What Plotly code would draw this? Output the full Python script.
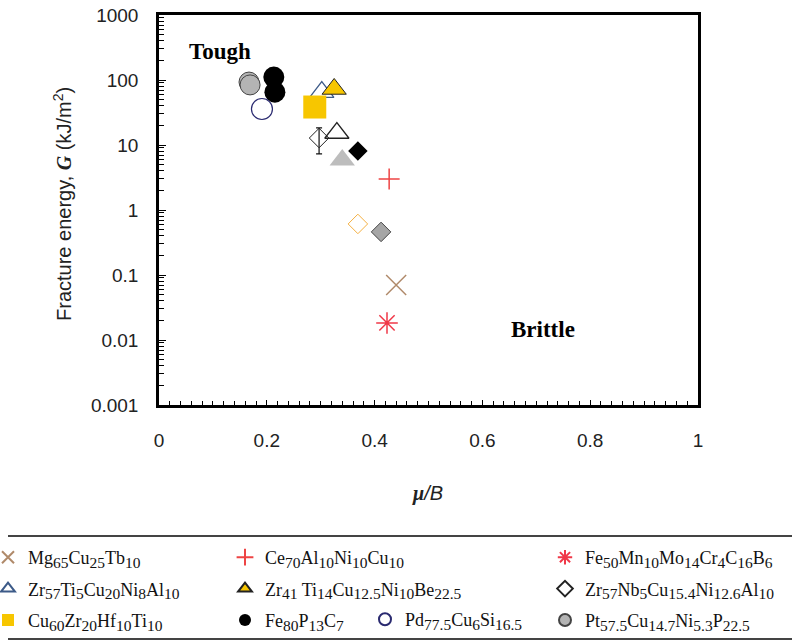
import plotly.graph_objects as go

W, H = 792, 641

# ---------------- data ----------------
mg_x, mg_y = [0.440], [0.070]
ce_x, ce_y = [0.427], [3.0]
fe50_x, fe50_y = [0.423], [0.0183]
zrti_x, zrti_y = [0.302, 0.330], [65, 15.3]
zr41_x, zr41_y = [0.325], [72.8]
zrnb_x, zrnb_y = [0.297], [12.8]
zrnb_err_up, zrnb_err_down = [5.5], [5.5]
cu60_x, cu60_y = [0.289], [38.4]
fe80_x, fe80_y = [0.213, 0.215], [111, 65]
pd_x, pd_y = [0.191], [35.8]
pt_x, pt_y = [0.167, 0.169], [93, 84]
# unlabelled points
greytri_x, greytri_y = [0.340], [5.9]
blackdia_x, blackdia_y = [0.369], [8.1]
orangedia_x, orangedia_y = [0.369], [0.61]
greydia_x, greydia_y = [0.412], [0.46]

y_tickvals = [0.001, 0.01, 0.1, 1, 10, 100, 1000]
y_ticktext = ["0.001", "0.01", "0.1", "1", "10", "100", "1000"]
x_tickvals = [0, 0.2, 0.4, 0.6, 0.8, 1]
x_ticktext = ["0", "0.2", "0.4", "0.6", "0.8", "1"]


def formula(parts):
    """parts: list of (element, subscript)"""
    out = ""
    for el, sub in parts:
        out += el
        if sub:
            out += "<sub><span style='font-size:15.5px'>%s</span></sub>" % sub
    return out


labels = {
    "mg": formula([("Mg", "65"), ("Cu", "25"), ("Tb", "10")]),
    "ce": formula([("Ce", "70"), ("Al", "10"), ("Ni", "10"), ("Cu", "10")]),
    "fe50": formula([("Fe", "50"), ("Mn", "10"), ("Mo", "14"), ("Cr", "4"), ("C", "16"), ("B", "6")]),
    "zrti": formula([("Zr", "57"), ("Ti", "5"), ("Cu", "20"), ("Ni", "8"), ("Al", "10")]),
    "zr41": formula([("Zr", "41"), (" Ti", "14"), ("Cu", "12.5"), ("Ni", "10"), ("Be", "22.5")]),
    "zrnb": formula([("Zr", "57"), ("Nb", "5"), ("Cu", "15.4"), ("Ni", "12.6"), ("Al", "10")]),
    "cu60": formula([("Cu", "60"), ("Zr", "20"), ("Hf", "10"), ("Ti", "10")]),
    "fe80": formula([("Fe", "80"), ("P", "13"), ("C", "7")]),
    "pd": formula([("Pd", "77.5"), ("Cu", "6"), ("Si", "16.5")]),
    "pt": formula([("Pt", "57.5"), ("Cu", "14.7"), ("Ni", "5.3"), ("P", "22.5")]),
}

YEL = "#f7c600"

fig = go.Figure()


def add(x, y, name, leg, symbol, size, color, line_color=None, line_width=1, **kw):
    marker = dict(symbol=symbol, size=size, color=color)
    marker["line"] = dict(width=line_width, color=line_color if line_color is not None else color)
    fig.add_trace(go.Scatter(
        x=x, y=y, mode="markers", name=name, marker=marker,
        legend=leg, legendgroup=name if name else None,
        showlegend=bool(name), **kw))


add(mg_x, mg_y, labels["mg"], "legend", "x-thin", 20, "#b08a6a", line_width=1.5)
add(ce_x, ce_y, labels["ce"], "legend2", "cross-thin", 15, "#ee4444", line_width=1.5)
add(fe50_x, fe50_y, labels["fe50"], "legend3", "asterisk-open", 18, "#f03848", line_width=1.5)
add(zrti_x, zrti_y, labels["zrti"], "legend", "triangle-up-open", 21,
    ["#3c5a88", "#222222"], line_width=1.3)
add(zr41_x, zr41_y, labels["zr41"], "legend2", "triangle-up", 21, YEL, line_color="#222", line_width=1)
add(zrnb_x, zrnb_y, labels["zrnb"], "legend3", "diamond-open", 15, "#222222", line_width=1,
    error_y=dict(type="data", symmetric=False, array=zrnb_err_up, arrayminus=zrnb_err_down,
                 color="#111", thickness=1.2, width=3))
add(cu60_x, cu60_y, labels["cu60"], "legend", "square", 23, YEL, line_color=YEL, line_width=0)
add(fe80_x, fe80_y, labels["fe80"], "legend2", "circle", 21, "#000000", line_color="#000", line_width=0)
add(pd_x, pd_y, labels["pd"], "legend4", "circle-open", 21, "#2a2a70", line_width=1.2)
add(pt_x, pt_y, labels["pt"], "legend3", "circle", 20, "#b4b4b4", line_color="#444", line_width=1)

add(greytri_x, greytri_y, "", "legend", "triangle-up", 22, "#bdbdbd", line_width=0)
add(blackdia_x, blackdia_y, "", "legend", "diamond", 15, "#000000", line_width=0)
add(orangedia_x, orangedia_y, "", "legend", "diamond-open", 15, "#f5b041", line_width=1)
add(greydia_x, greydia_y, "", "legend", "diamond", 15, "#a6a6a6", line_color="#444", line_width=1)


def px_x(p):
    return p / W


def px_y(p):
    return 1 - p / H


legend_font = dict(family="Liberation Serif", size=18, color="#111")
common_leg = dict(font=legend_font, bgcolor="rgba(0,0,0,0)", borderwidth=0,
                  orientation="v", xanchor="left", yanchor="top",
                  tracegroupgap=5, itemsizing="constant", traceorder="grouped")
row_top = px_y(539)

fig.update_layout(
    width=W, height=H,
    margin=dict(l=0, r=0, t=0, b=0, autoexpand=False),
    paper_bgcolor="white", plot_bgcolor="white",
    font=dict(family="Liberation Sans", color="#222"),
    xaxis=dict(
        domain=[px_x(159), px_x(698)], range=[0, 1],
        tickvals=x_tickvals, ticktext=x_ticktext,
        tickfont=dict(size=19, family="Liberation Sans", color="#222"),
        ticks="inside", ticklen=5, tickcolor="#000", tickwidth=1,
        minor=dict(dtick=0.02, ticks="inside", ticklen=4, tickcolor="#000", tickwidth=1, showgrid=False),
        showline=True, linecolor="#000", linewidth=2.5, mirror=True,
        showgrid=False, zeroline=False, ticklabelstandoff=16,
    ),
    yaxis=dict(
        domain=[px_y(405), px_y(15)], type="log", range=[-3, 3],
        tickvals=y_tickvals, ticktext=y_ticktext,
        tickfont=dict(size=19, family="Liberation Sans", color="#222"),
        ticks="inside", ticklen=7, tickcolor="#000", tickwidth=1,
        minor=dict(dtick="D1", ticks="inside", ticklen=5, tickcolor="#000", tickwidth=1, showgrid=False),
        showline=True, linecolor="#000", linewidth=2.5, mirror=True,
        showgrid=False, zeroline=False, ticklabelstandoff=14,
    ),
    legend=dict(x=px_x(-12), y=row_top, **common_leg),
    legend2=dict(x=px_x(225), y=row_top, **common_leg),
    legend3=dict(x=px_x(545), y=row_top, **common_leg),
    legend4=dict(x=px_x(365), y=px_y(601), **common_leg),
)

# lines framing the legend
for yy in (536, 639):
    fig.add_shape(type="line", xref="paper", yref="paper",
                  x0=px_x(8), x1=1, y0=px_y(yy), y1=px_y(yy),
                  line=dict(color="#444", width=2))

# axis titles
fig.add_annotation(
    xref="paper", yref="paper", x=px_x(62), y=px_y(204), textangle=-90,
    showarrow=False, xanchor="center", yanchor="middle",
    text="Fracture energy, <span style=\"font-family:'Liberation Serif'\"><b><i>G</i></b></span> (kJ/m<sup>2</sup>)",
    font=dict(size=20, family="Liberation Sans", color="#222"))
fig.add_annotation(
    xref="paper", yref="paper", x=px_x(427), y=px_y(493),
    showarrow=False, xanchor="center", yanchor="middle",
    text="<span style=\"font-family:'Liberation Serif'\"><b><i>\u03bc</i></b></span><i>/B</i>",
    font=dict(size=20, family="Liberation Sans", color="#222"))

# region labels
fig.add_annotation(x=0.113, y=2.431, xref="x", yref="y", showarrow=False,
                   text="<b>Tough</b>", font=dict(size=23, family="Liberation Serif", color="#000"))
fig.add_annotation(x=0.712, y=-1.846, xref="x", yref="y", showarrow=False,
                   text="<b>Brittle</b>", font=dict(size=23, family="Liberation Serif", color="#000"))

fig.write_html("out.html",
               config={"displayModeBar": False},
               post_script="document.body.style.margin='0';document.body.style.padding='0';")
